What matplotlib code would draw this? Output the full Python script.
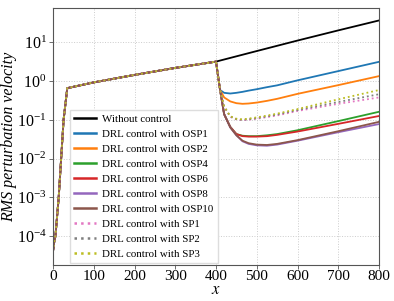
import numpy as np
import matplotlib
matplotlib.use('Agg')
import matplotlib.pyplot as plt

plt.rcParams['font.family'] = ['Liberation Serif', 'DejaVu Serif']
plt.rcParams['mathtext.fontset'] = 'stix'

# shared growth before control starts (x <= 400)
x_pre = [0, 3, 6, 14, 20, 26, 35, 100, 200, 300]
v_pre = [4e-5, 7e-5, 1e-4, 1e-3, 1e-2, 1e-1, 0.66, 0.93, 1.45, 2.2]

# uncontrolled branch
x_free = [400, 500, 600, 700, 800]
v_free = [3.2, 6.0, 11.2, 20.5, 37.0]

# controlled branches
x_ctrl = [400, 410, 420, 435, 450, 465, 480, 500, 525, 550, 600, 700, 800]
osp1 = [3.2, 0.59, 0.50, 0.48, 0.50, 0.53, 0.57, 0.62, 0.70, 0.78, 1.05, 1.82, 3.16]
osp2 = [3.2, 0.59, 0.38, 0.30, 0.27, 0.26, 0.265, 0.28, 0.31, 0.35, 0.47, 0.79, 1.35]
osp4 = [3.2, 0.59, 0.14, 0.066, 0.043, 0.039, 0.038, 0.038, 0.040, 0.043, 0.054, 0.093, 0.162]
osp6 = [3.2, 0.59, 0.14, 0.066, 0.043, 0.038, 0.037, 0.037, 0.038, 0.041, 0.050, 0.079, 0.126]
osp8 = [3.2, 0.59, 0.14, 0.064, 0.040, 0.028, 0.024, 0.022, 0.0215, 0.023, 0.029, 0.048, 0.078]
osp10 = [3.2, 0.59, 0.14, 0.064, 0.040, 0.029, 0.025, 0.023, 0.0225, 0.024, 0.030, 0.051, 0.089]
sp1 = [3.2, 0.59, 0.22, 0.120, 0.103, 0.098, 0.101, 0.107, 0.118, 0.13, 0.17, 0.26, 0.38]
sp2 = [3.2, 0.59, 0.22, 0.122, 0.105, 0.100, 0.104, 0.111, 0.123, 0.137, 0.18, 0.29, 0.46]
sp3 = [3.2, 0.59, 0.22, 0.124, 0.107, 0.103, 0.108, 0.116, 0.129, 0.145, 0.19, 0.34, 0.59]

series = [
    ('DRL control with OSP1', osp1, 'tab:blue', '-'),
    ('DRL control with OSP2', osp2, 'tab:orange', '-'),
    ('DRL control with OSP4', osp4, 'tab:green', '-'),
    ('DRL control with OSP6', osp6, 'tab:red', '-'),
    ('DRL control with OSP8', osp8, 'tab:purple', '-'),
    ('DRL control with OSP10', osp10, 'tab:brown', '-'),
    ('DRL control with SP1', sp1, 'tab:pink', ':'),
    ('DRL control with SP2', sp2, 'tab:gray', ':'),
    ('DRL control with SP3', sp3, 'tab:olive', ':'),
]

fig = plt.figure(figsize=(3.94, 3.01), dpi=100)
ax = fig.add_axes([0.1345, 0.12, 0.8275, 0.853])

ax.plot(x_pre + x_free, v_pre + v_free, color='black', lw=1.3, label='Without control')
for name, vals, col, ls in series:
    ax.plot(x_pre + x_ctrl, v_pre + vals, color=col, ls=ls, lw=1.3, label=name)

ax.set_yscale('log')
ax.set_xlim(0, 800)
ax.set_ylim(1.8e-5, 77)
ax.set_xticks(range(0, 801, 100))
ax.set_yticks([1e-4, 1e-3, 1e-2, 1e-1, 1, 10])
ax.minorticks_off()
ax.tick_params(labelsize=11.5, length=3, width=0.6, color='#555555', pad=1.5)
ax.tick_params(axis='x', labelsize=11, pad=1)
for s in ax.spines.values():
    s.set_color('#555555')
    s.set_linewidth(0.8)
ax.grid(True, ls=':', color='#cccccc', lw=0.7)

ax.set_xlabel('$x$', fontsize=12, va='bottom')
ax.xaxis.set_label_coords(0.5, -0.13)
ax.set_ylabel('RMS perturbation velocity', fontsize=11.5, style='italic', labelpad=0)

leg = ax.legend(loc='lower left', bbox_to_anchor=(0.052, 0.006), borderaxespad=0,
                fontsize=7.8, handlelength=2.0, handletextpad=0.6, labelspacing=0.5,
                framealpha=1, edgecolor='#dddddd', fancybox=False)
for h in leg.get_lines():
    h.set_linewidth(1.8)

fig.savefig('out.png', dpi=100)
